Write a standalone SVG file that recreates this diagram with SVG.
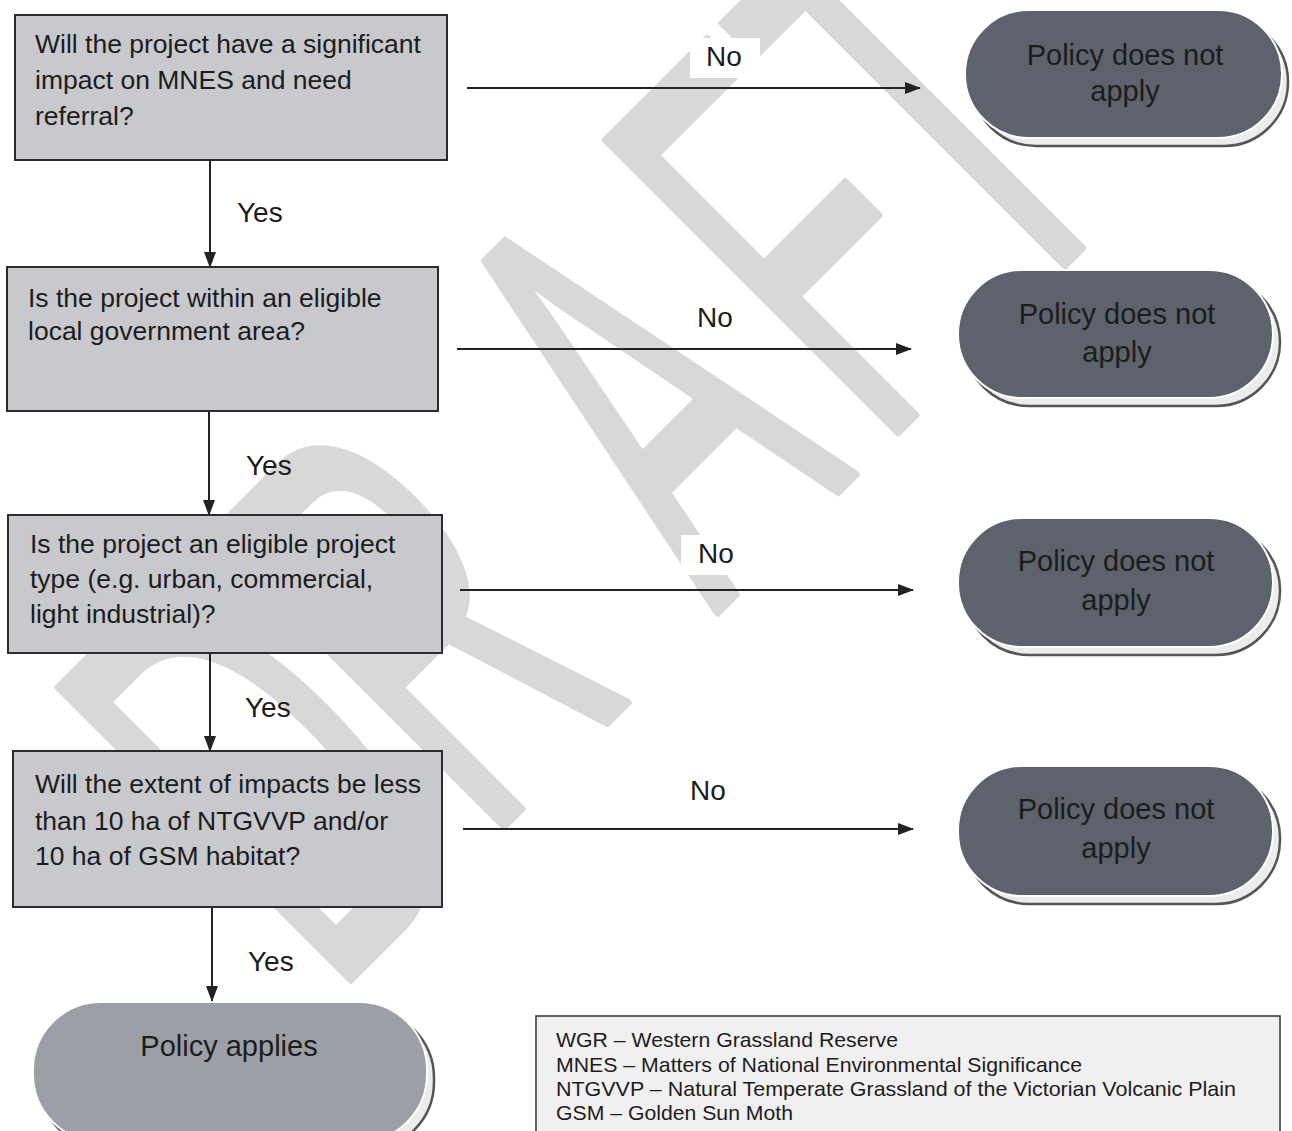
<svg xmlns="http://www.w3.org/2000/svg" width="1292" height="1131" viewBox="0 0 1292 1131">
<defs>
<style>
.q{fill:#c7c9cd;stroke:#2b2b2b;stroke-width:2}
.t{font-family:"Liberation Sans",Arial,sans-serif;fill:#1c1c1c}
.qt{font-size:26.5px}
.lb{font-size:28px}
.tt{font-size:29px;text-anchor:middle}
.term{fill:#5d626d;stroke:#ffffff;stroke-width:2}
.shadow{fill:#ececec;stroke:#555;stroke-width:2.5}
.conn{stroke:#222;stroke-width:2;fill:none;marker-end:url(#ah)}
.lg{font-size:21px}
.wm{font-family:"Liberation Sans",Arial,sans-serif;font-size:600px;fill:#d8d8d8;stroke:#d8d8d8;stroke-width:8;stroke-linejoin:round}
</style>
<marker id="ah" viewBox="0 0 16 12" refX="15" refY="6" markerWidth="16" markerHeight="12" markerUnits="userSpaceOnUse" orient="auto">
<path d="M0,0 L16,6 L0,12 Z" fill="#222"/>
</marker>
</defs>
<rect width="1292" height="1131" fill="#ffffff"/>
<g id="watermark" transform="translate(665 665) rotate(-45) scale(0.5 1)">
<text class="wm" x="-942 -508 144 606 972" y="0">DRAFT</text>
</g>
<g id="connectors">
<line class="conn" x1="210" y1="161" x2="210" y2="267"/>
<line class="conn" x1="209" y1="412" x2="209" y2="515"/>
<line class="conn" x1="210" y1="654" x2="210" y2="751"/>
<line class="conn" x1="212" y1="908" x2="212" y2="1001"/>
<line class="conn" x1="467" y1="88" x2="920" y2="88"/>
<line class="conn" x1="457" y1="349" x2="911" y2="349"/>
<line class="conn" x1="460" y1="590" x2="913" y2="590"/>
<line class="conn" x1="463" y1="829" x2="913" y2="829"/>
<text class="t lb" x="237" y="222">Yes</text>
<text class="t lb" x="246" y="475">Yes</text>
<text class="t lb" x="245" y="717">Yes</text>
<text class="t lb" x="248" y="971">Yes</text>
<rect x="690" y="38" width="70" height="40" fill="#fff"/>
<text class="t lb" x="706" y="66">No</text>
<rect x="680" y="299" width="70" height="40" fill="#fff"/>
<text class="t lb" x="697" y="327">No</text>
<rect x="681" y="535" width="70" height="40" fill="#fff"/>
<text class="t lb" x="698" y="563">No</text>
<text class="t lb" x="690" y="800">No</text>
</g>
<g id="q1">
<rect class="q" x="15" y="15" width="432" height="145"/>
<text class="t qt" x="35" y="53">Will the project have a significant</text>
<text class="t qt" x="35" y="89">impact on MNES and need</text>
<text class="t qt" x="35" y="125">referral?</text>
</g>
<g id="q2">
<rect class="q" x="7" y="267" width="431" height="144"/>
<text class="t qt" x="28" y="307">Is the project within an eligible</text>
<text class="t qt" x="28" y="340">local government area?</text>
</g>
<g id="q3">
<rect class="q" x="8" y="515" width="434" height="138"/>
<text class="t qt" x="30" y="553">Is the project an eligible project</text>
<text class="t qt" x="30" y="588">type (e.g. urban, commercial,</text>
<text class="t qt" x="30" y="623">light industrial)?</text>
</g>
<g id="q4">
<rect class="q" x="13" y="751" width="429" height="156"/>
<text class="t qt" x="35" y="793">Will the extent of impacts be less</text>
<text class="t qt" x="35" y="830">than 10 ha of NTGVVP and/or</text>
<text class="t qt" x="35" y="865">10 ha of GSM habitat?</text>
</g>
<g id="t1">
<rect class="shadow" x="972" y="18" width="316" height="128" rx="64"/>
<rect class="term" x="965" y="10" width="317" height="128" rx="64"/>
<text class="t tt" x="1125" y="65">Policy does not</text>
<text class="t tt" x="1125" y="101">apply</text>
</g>
<g id="t2">
<rect class="shadow" x="965" y="278" width="315" height="128" rx="64"/>
<rect class="term" x="958" y="270" width="315" height="128" rx="64"/>
<text class="t tt" x="1117" y="324">Policy does not</text>
<text class="t tt" x="1117" y="362">apply</text>
</g>
<g id="t3">
<rect class="shadow" x="965" y="526" width="315" height="129" rx="64"/>
<rect class="term" x="958" y="518" width="315" height="129" rx="64"/>
<text class="t tt" x="1116" y="571">Policy does not</text>
<text class="t tt" x="1116" y="610">apply</text>
</g>
<g id="t4">
<rect class="shadow" x="965" y="774" width="315" height="130" rx="64"/>
<rect class="term" x="958" y="766" width="315" height="130" rx="64"/>
<text class="t tt" x="1116" y="819">Policy does not</text>
<text class="t tt" x="1116" y="858">apply</text>
</g>
<g id="applies">
<rect class="shadow" x="40" y="1010" width="394" height="140" rx="68"/>
<rect x="33" y="1002" width="394" height="140" rx="68" fill="#9c9fa5" stroke="#fff" stroke-width="2"/>
<text class="t tt" x="229" y="1056">Policy applies</text>
</g>
<g id="legend">
<rect x="536" y="1016" width="744" height="130" fill="#f0f0f0" stroke="#333" stroke-width="1.5"/>
<text class="t lg" x="556" y="1047" textLength="342" lengthAdjust="spacingAndGlyphs">WGR – Western Grassland Reserve</text>
<text class="t lg" x="556" y="1072" textLength="526" lengthAdjust="spacingAndGlyphs">MNES – Matters of National Environmental Significance</text>
<text class="t lg" x="556" y="1096" textLength="680" lengthAdjust="spacingAndGlyphs">NTGVVP – Natural Temperate Grassland of the Victorian Volcanic Plain</text>
<text class="t lg" x="556" y="1120" textLength="237" lengthAdjust="spacingAndGlyphs">GSM – Golden Sun Moth</text>
</g>
</svg>
